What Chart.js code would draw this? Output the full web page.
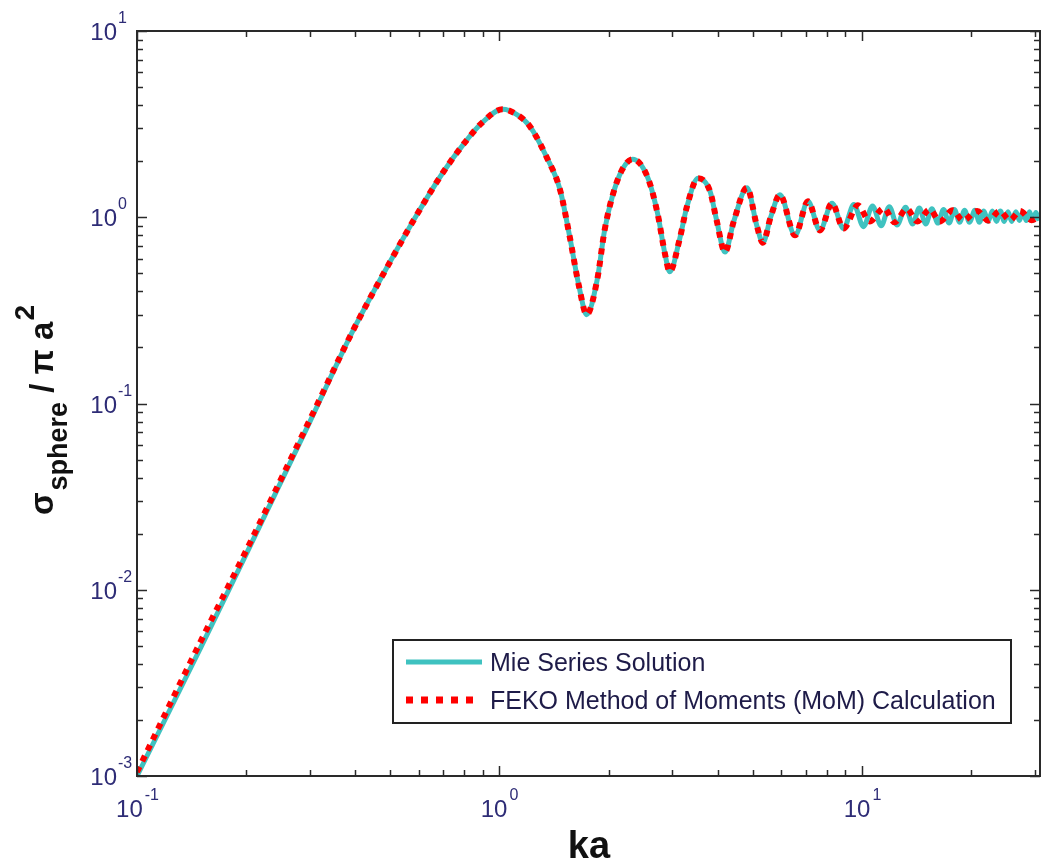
<!DOCTYPE html>
<html>
<head>
<meta charset="utf-8">
<script src="https://cdn.jsdelivr.net/npm/chart.js@4/dist/chart.umd.min.js"></script>
<style>
  html, body { margin: 0; padding: 0; background: #fff; }
  #wrap { position: relative; width: 1041px; height: 864px; }
</style>
</head>
<body>
<div id="wrap"><canvas id="c"></canvas></div>
<script>
// Backscatter RCS of a PEC sphere, normalised by pi a^2, vs ka (log-log).
// Values.
var mieKa = [0.1, 0.15, 0.2, 0.3, 0.4, 0.5, 0.6, 0.7, 0.8, 0.9, 1.02, 1.12, 1.21, 1.35,
  1.47, 1.56, 1.66, 1.74, 1.86, 1.95, 2.05, 2.18, 2.33, 2.56, 2.73, 2.86, 2.95, 3.14,
  3.29, 3.53, 3.81, 3.97, 4.19, 4.43, 4.82, 5.13, 5.33, 5.6, 5.94, 6.54, 7.1, 7.66,
  8.27, 8.9, 9.5, 10.1, 10.7, 11.3, 11.9, 12.5, 13.2, 13.8, 14.4, 15.0, 15.6, 16.2,
  16.8, 17.4, 18.0, 18.6, 19.2, 19.8, 20.5, 21.1, 21.7, 22.3, 22.9, 23.5, 24.1, 24.7,
  25.3, 25.9, 26.6, 27.2, 27.8, 28.4, 29.0, 29.6, 30.2, 30.8];
var mieVal = [0.001, 0.0049, 0.0155, 0.08, 0.26, 0.58, 1.08, 1.75, 2.5, 3.25, 3.8, 3.55, 3.1, 2.1,
  1.4, 0.8, 0.42, 0.3, 0.46, 0.85, 1.3, 1.8, 2.05, 1.65, 1.05, 0.64, 0.51, 0.76,
  1.14, 1.62, 1.38, 0.97, 0.65, 0.95, 1.44, 0.9, 0.73, 1.0, 1.32, 0.8, 1.22, 0.85,
  1.19, 0.87, 1.17, 0.89, 1.15, 0.9, 1.14, 0.91, 1.13, 0.92, 1.12, 0.92, 1.11, 0.93,
  1.1, 0.93, 1.1, 0.94, 1.09, 0.94, 1.09, 0.94, 1.08, 0.95, 1.08, 0.95, 1.08, 0.95,
  1.07, 0.95, 1.07, 0.96, 1.07, 0.96, 1.07, 0.96, 1.06, 0.96];

var momKa = [0.1, 0.15, 0.2, 0.3, 0.4, 0.5, 0.6, 0.7, 0.8, 0.9, 1.02, 1.12, 1.21, 1.35,
  1.47, 1.56, 1.66, 1.74, 1.86, 1.95, 2.05, 2.18, 2.33, 2.56, 2.73, 2.86, 2.95, 3.14,
  3.29, 3.53, 3.81, 3.97, 4.19, 4.43, 4.82, 5.13, 5.33, 5.6, 5.94, 6.54, 7.1, 7.66,
  8.27, 8.9, 9.75, 10.5, 11.5, 12.3, 13.3, 14.2, 15.4, 16.4, 17.8, 19.0, 20.8, 22.3,
  24.0, 25.6, 27.3, 29.4, 31.0];
var momVal = [0.00105, 0.0053, 0.0162, 0.082, 0.26, 0.58, 1.08, 1.75, 2.5, 3.25, 3.8, 3.55, 3.1, 2.1,
  1.4, 0.8, 0.42, 0.3, 0.46, 0.85, 1.3, 1.8, 2.05, 1.65, 1.05, 0.64, 0.51, 0.76,
  1.14, 1.62, 1.38, 0.97, 0.65, 0.95, 1.44, 0.9, 0.73, 1.0, 1.32, 0.8, 1.22, 0.85,
  1.19, 0.87, 1.16, 0.95, 1.12, 0.94, 1.11, 0.95, 1.1, 0.95, 1.09, 0.96, 1.08, 0.96,
  1.08, 0.965, 1.08, 0.965, 1.02];

var seriesNames = ["Mie Series Solution", "FEKO Method of Moments (MoM) Calculation"];
var xRange = [0.1, 31];
var yRange = [0.001, 10];

var FONT = "'Liberation Sans', Arial, Helvetica, sans-serif";
var TEAL = "#3fc2c0";
var RED = "#ff0000";
var INK_TICK = "#2e2c76";
var INK_AXIS = "#2a2a2a";

function pts(xs, ys) {
  return xs.map(function (x, i) { return { x: x, y: ys[i] }; });
}

// tick classification: only integer mantissas 1..9 get a mark
function tickKind(v) {
  var e = Math.floor(Math.log10(v) + 1e-9);
  var m = v / Math.pow(10, e);
  var r = Math.round(m);
  if (Math.abs(m - r) > 1e-6 || r < 1 || r > 9) return null;
  return { major: r === 1, exp: e };
}

function line(ctx, x1, y1, x2, y2) {
  ctx.beginPath();
  ctx.moveTo(x1, y1);
  ctx.lineTo(x2, y2);
  ctx.stroke();
}

// "10" with a superscript exponent; anchor is either the right edge of
// "10" (y axis) or the centre of the whole label (x axis)
function drawPow(ctx, exp, x, base, mode) {
  var big = "24px " + FONT, small = "16px " + FONT;
  ctx.font = big;
  var w10 = ctx.measureText("10").width;
  ctx.font = small;
  var we = ctx.measureText(String(exp)).width;
  var x0 = mode === "center" ? x - (w10 + we + 2) / 2 : x - w10;
  ctx.fillStyle = INK_TICK;
  ctx.textAlign = "left";
  ctx.textBaseline = "alphabetic";
  ctx.font = big;
  ctx.fillText("10", x0, base);
  ctx.font = small;
  ctx.fillText(String(exp), x0 + w10 + (mode === "center" ? 2 : 1), base - 17);
}

var frame = {
  id: "frame",
  afterDatasetsDraw: function (chart) {
    var ctx = chart.ctx, a = chart.chartArea;
    var xs = chart.scales.x, ys = chart.scales.y;
    ctx.save();

    // box
    ctx.strokeStyle = INK_AXIS;
    ctx.lineWidth = 2;
    ctx.strokeRect(a.left, a.top, a.right - a.left, a.bottom - a.top);

    // ticks pointing inwards on all four sides
    ctx.lineWidth = 1.5;
    xs.ticks.forEach(function (t) {
      var k = tickKind(t.value);
      if (!k) return;
      var px = Math.round(xs.getPixelForValue(t.value)) + 0.5;
      if (px < a.left - 1 || px > a.right + 1) return;
      var len = k.major ? 10 : 6;
      ctx.strokeStyle = INK_AXIS;
      line(ctx, px, a.bottom, px, a.bottom - len);
      line(ctx, px, a.top, px, a.top + len);
      if (k.major) drawPow(ctx, k.exp, px, 817, "center");
    });
    ys.ticks.forEach(function (t) {
      var k = tickKind(t.value);
      if (!k) return;
      var py = Math.round(ys.getPixelForValue(t.value)) + 0.5;
      if (py < a.top - 1 || py > a.bottom + 1) return;
      var len = k.major ? 10 : 6;
      ctx.strokeStyle = INK_AXIS;
      line(ctx, a.left, py, a.left + len, py);
      line(ctx, a.right, py, a.right - len, py);
      if (k.major) drawPow(ctx, k.exp, 117, py + 8.5, "right");
    });

    // x title
    ctx.fillStyle = "#111";
    ctx.font = "bold 38px " + FONT;
    ctx.textAlign = "center";
    ctx.textBaseline = "alphabetic";
    ctx.fillText("ka", 589, 858);

    // y title: sigma_sphere / pi a^2, rotated
    ctx.save();
    ctx.translate(53, 515);
    ctx.rotate(-Math.PI / 2);
    ctx.textAlign = "left";
    var cx = 0;
    ctx.font = "bold 33px " + FONT;
    ctx.fillText("σ", cx, 0);
    cx += ctx.measureText("σ").width + 2;
    ctx.font = "bold 27px " + FONT;
    ctx.fillText("sphere", cx, 14);
    cx += ctx.measureText("sphere").width;
    ctx.font = "bold 33px " + FONT;
    ctx.fillText(" / π a", cx, 0);
    cx += ctx.measureText(" / π a").width + 1;
    ctx.font = "bold 28px " + FONT;
    ctx.fillText("2", cx, -19);
    ctx.restore();

    // legend box, lower right inside the axes
    var lw = 618, lh = 83;
    var lx = a.right - 29 - lw, ly = a.bottom - 53 - lh;
    ctx.fillStyle = "#fff";
    ctx.fillRect(lx, ly, lw, lh);
    ctx.strokeStyle = "#222";
    ctx.lineWidth = 2;
    ctx.strokeRect(lx, ly, lw, lh);

    ctx.strokeStyle = TEAL;
    ctx.lineWidth = 5;
    line(ctx, lx + 13, ly + 22, lx + 89, ly + 22);
    ctx.strokeStyle = RED;
    ctx.lineWidth = 7;
    ctx.setLineDash([7, 8]);
    line(ctx, lx + 13, ly + 60, lx + 84, ly + 60);
    ctx.setLineDash([]);

    ctx.fillStyle = "#1e1b48";
    ctx.font = "25px " + FONT;
    ctx.textAlign = "left";
    ctx.fillText(seriesNames[0], lx + 97, ly + 31);
    ctx.fillText(seriesNames[1], lx + 97, ly + 69);

    ctx.restore();
  }
};

new Chart(document.getElementById("c"), {
  type: "line",
  data: {
    datasets: [
      {
        label: seriesNames[0],
        data: pts(mieKa, mieVal),
        borderColor: TEAL,
        borderWidth: 5,
        pointRadius: 0,
        cubicInterpolationMode: "monotone",
        order: 2,
      },
      {
        label: seriesNames[1],
        data: pts(momKa, momVal),
        borderColor: RED,
        borderWidth: 6,
        borderDash: [6, 6],
        borderCapStyle: "butt",
        pointRadius: 0,
        cubicInterpolationMode: "monotone",
        order: 1,
      },
    ],
  },
  options: {
    responsive: true,
    maintainAspectRatio: false,
    animation: false,
    layout: { padding: { left: 137, top: 31, right: 1, bottom: 88 } },
    scales: {
      x: { type: "logarithmic", min: xRange[0], max: xRange[1], display: false },
      y: { type: "logarithmic", min: yRange[0], max: yRange[1], display: false },
    },
    plugins: {
      legend: { display: false },
      tooltip: { enabled: false },
    },
  },
  plugins: [frame],
});
</script>
</body>
</html>
